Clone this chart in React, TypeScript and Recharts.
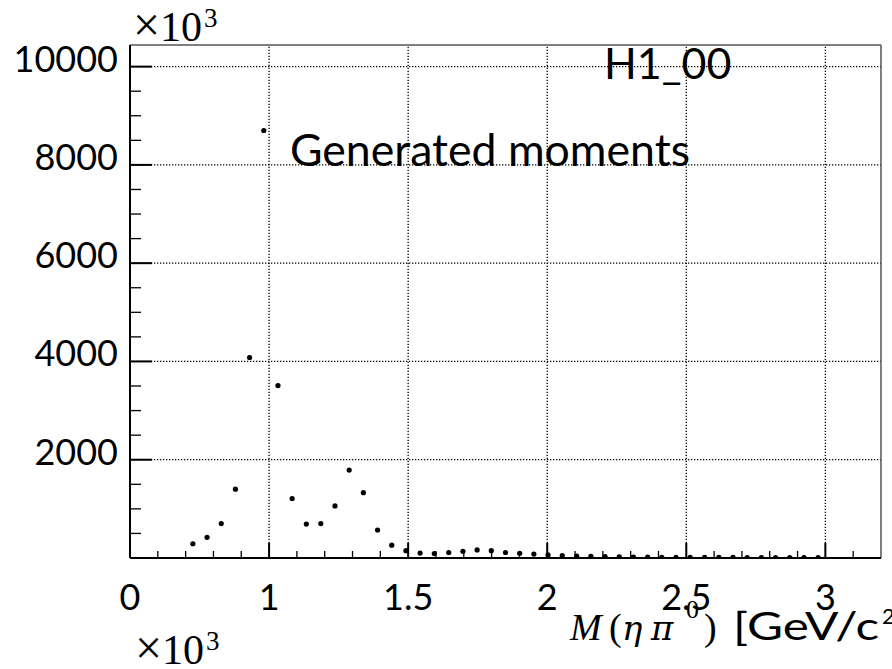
import React from "react"
import { ScatterChart, Scatter, XAxis, YAxis, ReferenceLine } from "recharts"

// bin centres of M(eta pi0) [GeV/c^2] (45 bins, 0.7 - 3.0)
const binCenters = [
  0.726, 0.777, 0.828, 0.879, 0.93, 0.981, 1.032, 1.083, 1.134, 1.186, 1.237, 1.288, 1.339, 1.39, 1.441,
  1.492, 1.543, 1.594, 1.646, 1.697, 1.748, 1.799, 1.85, 1.901, 1.952, 2.003, 2.054, 2.106, 2.157, 2.208,
  2.259, 2.31, 2.361, 2.412, 2.463, 2.514, 2.566, 2.617, 2.668, 2.719, 2.77, 2.821, 2.872, 2.923, 2.974,
]
// H1_00 moment (x10^3)
const moments = [
  290, 420, 700, 1400, 4080, 8700, 3510, 1210, 690, 700, 1060, 1790, 1330, 570, 260,
  150, 100, 90, 110, 135, 165, 150, 112, 95, 80, 62, 48, 40, 33, 27,
  22, 18, 16, 15, 14, 13, 12, 12, 11, 10, 10, 9, 9, 8, 8,
]

const xMajorTicks = [0.5, 1, 1.5, 2, 2.5, 3]
const xTickLabels = ["0", "1", "1.5", "2", "2.5", "3"]
const xMinorTicks = [
  0.6, 0.7, 0.8, 0.9, 1.1, 1.2, 1.3, 1.4, 1.6, 1.7, 1.8, 1.9, 2.1, 2.2, 2.3, 2.4, 2.6, 2.7, 2.8, 2.9, 3.1,
]
const yMajorTicks = [2000, 4000, 6000, 8000, 10000]
const yTickLabels = ["2000", "4000", "6000", "8000", "10000"]
const yMinorTicks = [
  500, 1000, 1500, 2500, 3000, 3500, 4500, 5000, 5500, 6500, 7000, 7500, 8500, 9000, 9500,
]
const xGrid = [1, 1.5, 2, 2.5, 3]
const xDomain = [0.5, 3.2]
const yDomain = [0, 10440]

const points = binCenters.map((x, i) => ({ x, y: moments[i] }))

const labelFont = "Lato, 'Open Sans', sans-serif"
const mathFont = "'Liberation Serif', 'DejaVu Serif', serif"
const greekFont = "'DejaVu Serif', serif"

const XTick = (props: any) => {
  const { x, y, payload } = props
  const i = xMajorTicks.indexOf(payload.value)
  const major = i >= 0
  return (
    <g>
      <line x1={x} x2={x} y1={y} y2={y - (major ? 15 : 7)} stroke="#000" strokeWidth={major ? 2 : 1.3} />
      {major && (
        <text x={x} y={y + 52} textAnchor="middle" fontFamily={labelFont} fontSize={36} fill="#000">
          {xTickLabels[i]}
        </text>
      )}
    </g>
  )
}

const YTick = (props: any) => {
  const { x, y, payload } = props
  const i = yMajorTicks.indexOf(payload.value)
  const major = i >= 0
  return (
    <g>
      <line x1={x} x2={x + (major ? 22 : 11)} y1={y} y2={y} stroke="#000" strokeWidth={major ? 2 : 1.3} />
      {major && (
        <text x={x - 12} y={y + 5} textAnchor="end" fontFamily={labelFont} fontSize={36} fill="#000">
          {yTickLabels[i]}
        </text>
      )}
    </g>
  )
}

const Dot = (props: any) => <circle cx={props.cx} cy={props.cy} r={2.6} fill="#000" />

export default function App() {
  return (
    <div style={{ position: "absolute", left: 0, top: 0, width: 892, height: 669, background: "#fff" }}>
      <ScatterChart width={892} height={669} margin={{ top: 45, right: 11, bottom: 0, left: 0 }}>
        <XAxis
          type="number"
          dataKey="x"
          domain={xDomain}
          ticks={[...xMajorTicks, ...xMinorTicks]}
          interval={0}
          allowDataOverflow
          height={111}
          tickSize={0}
          tickMargin={0}
          tickLine={false}
          axisLine={{ stroke: "#000", strokeWidth: 2 }}
          tick={(p: any) => <XTick {...p} />}
        />
        <YAxis
          type="number"
          dataKey="y"
          domain={yDomain}
          ticks={[...yMajorTicks, ...yMinorTicks]}
          interval={0}
          allowDataOverflow
          width={130}
          tickSize={0}
          tickMargin={0}
          tickLine={false}
          axisLine={{ stroke: "#000", strokeWidth: 2 }}
          tick={(p: any) => <YTick {...p} />}
        />
        {xGrid.map((v) => (
          <ReferenceLine key={"gx" + v} x={v} stroke="#000" strokeWidth={1.3} strokeDasharray="1.3 1.7" />
        ))}
        {yMajorTicks.map((v) => (
          <ReferenceLine key={"gy" + v} y={v} stroke="#000" strokeWidth={1.3} strokeDasharray="1.3 1.7" />
        ))}
        <ReferenceLine y={yDomain[1]} stroke="#555" strokeWidth={1.5} />
        <ReferenceLine x={xDomain[1]} stroke="#555" strokeWidth={1.5} />
        <Scatter data={points} fill="#000" shape={Dot} isAnimationActive={false} />
      </ScatterChart>
      <svg
        width={892}
        height={669}
        style={{ position: "absolute", left: 0, top: 0, pointerEvents: "none", overflow: "hidden" }}
      >
        <text x={604} y={79} fontFamily={labelFont} fontSize={43} fill="#000">
          H1_00
        </text>
        <text
          x={290}
          y={166}
          fontFamily={labelFont}
          fontSize={44}
          fill="#000"
          textLength={400}
          lengthAdjust="spacingAndGlyphs"
        >
          Generated moments
        </text>
        <text x={133} y={41} fontFamily={mathFont} fontSize={42} fill="#000">
          <tspan fontSize={48}>×</tspan>
          <tspan>10</tspan>
          <tspan fontSize={27} dx={2} dy={-14}>
            3
          </tspan>
        </text>
        <text x={135} y={664} fontFamily={mathFont} fontSize={42} fill="#000">
          <tspan fontSize={48}>×</tspan>
          <tspan>10</tspan>
          <tspan fontSize={27} dx={2} dy={-14}>
            3
          </tspan>
        </text>
        <text y={640} fill="#000">
          <tspan x={570} fontFamily={mathFont} fontSize={38} fontStyle="italic">M</tspan>
          <tspan x={609} fontFamily={mathFont} fontSize={38}>(</tspan>
          <tspan x={622} fontFamily={greekFont} fontSize={34} fontStyle="italic">η</tspan>
          <tspan x={651} fontFamily={greekFont} fontSize={34} fontStyle="italic">π</tspan>
          <tspan x={686} y={618} fontFamily={mathFont} fontSize={26}>0</tspan>
          <tspan x={704} y={640} fontFamily={mathFont} fontSize={38}>)</tspan>
          <tspan x={733} fontFamily={labelFont} fontSize={38} textLength={146} lengthAdjust="spacingAndGlyphs">
            [GeV/c
          </tspan>
          <tspan x={882} y={624} fontFamily={labelFont} fontSize={22}>2</tspan>
          <tspan y={640} fontFamily={labelFont} fontSize={36}>]</tspan>
        </text>
      </svg>
    </div>
  )
}
